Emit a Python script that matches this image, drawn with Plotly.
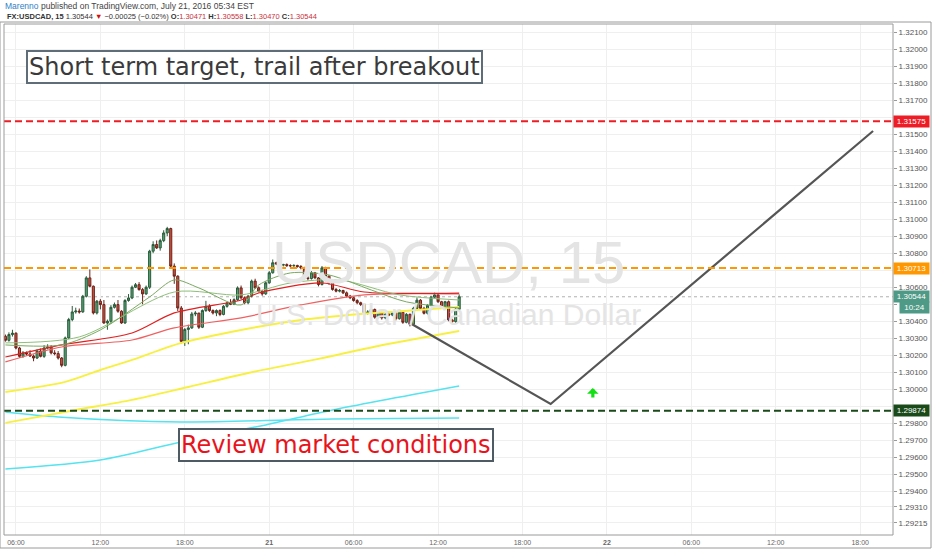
import plotly.graph_objects as go
import pandas as pd

# ---------------- data ----------------
first_candle = "2016-07-20 05:15"
opens = [1.30312,1.30288,1.30322,1.30330,1.30243,1.30194,1.30214,1.30208,1.30196,1.30184,
         1.30225,1.30194,1.30243,1.30248,1.30214,1.30210,1.30184,1.30141,1.30302,1.30410,
         1.30455,1.30460,1.30455,1.30547,1.30655,1.30606,1.30449,1.30518,1.30498,1.30390,
         1.30400,1.30482,1.30498,1.30459,1.30390,1.30522,1.30537,1.30600,1.30615,1.30586,
         1.30561,1.30600,1.30812,1.30851,1.30831,1.30874,1.30919,1.30945,1.30724,1.30665,
         1.30478,1.30282,1.30352,1.30361,1.30443,1.30448,1.30365,1.30463,1.30488,1.30463,
         1.30449,1.30463,1.30440,1.30488,1.30508,1.30500,1.30527,1.30596,1.30538,1.30509,
         1.30548,1.30636,1.30597,1.30577,1.30561,1.30626,1.30685,1.30744,1.30738,1.30730,
         1.30733,1.30727,1.30726,1.30728,1.30722,1.30714,1.30655,1.30651,1.30685,1.30655,
         1.30616,1.30714,1.30665,1.30626,1.30587,1.30577,1.30581,1.30567,1.30548,1.30538,
         1.30522,1.30509,1.30499,1.30450,1.30454,1.30469,1.30424,1.30450,1.30420,1.30441,
         1.30437,1.30450,1.30415,1.30453,1.30394,1.30441,1.30382,1.30476,1.30524,1.30476,
         1.30447,1.30494,1.30541,1.30555,1.30515,1.30486,1.30515,1.30408,1.30398,1.30471]
highs = [1.30322,1.30335,1.30350,1.30335,1.30250,1.30225,1.30222,1.30230,1.30205,1.30235,
         1.30240,1.30260,1.30265,1.30260,1.30230,1.30225,1.30190,1.30310,1.30420,1.30490,
         1.30480,1.30475,1.30555,1.30665,1.30705,1.30610,1.30525,1.30530,1.30525,1.30410,
         1.30495,1.30510,1.30525,1.30465,1.30530,1.30560,1.30610,1.30625,1.30630,1.30595,
         1.30610,1.30820,1.30870,1.30875,1.30885,1.30935,1.30955,1.30950,1.30740,1.30670,
         1.30490,1.30360,1.30380,1.30455,1.30460,1.30450,1.30470,1.30520,1.30500,1.30470,
         1.30470,1.30470,1.30495,1.30515,1.30530,1.30535,1.30605,1.30610,1.30545,1.30555,
         1.30645,1.30650,1.30605,1.30585,1.30635,1.30695,1.30763,1.30750,1.30745,1.30738,
         1.30740,1.30735,1.30735,1.30732,1.30730,1.30720,1.30665,1.30695,1.30690,1.30660,
         1.30725,1.30720,1.30670,1.30630,1.30595,1.30590,1.30585,1.30575,1.30555,1.30545,
         1.30530,1.30515,1.30505,1.30465,1.30475,1.30475,1.30460,1.30455,1.30448,1.30450,
         1.30458,1.30455,1.30460,1.30460,1.30448,1.30445,1.30485,1.30540,1.30530,1.30485,
         1.30500,1.30550,1.30568,1.30560,1.30520,1.30520,1.30522,1.30415,1.30480,1.30558]
lows = [1.30280,1.30280,1.30310,1.30235,1.30185,1.30185,1.30198,1.30190,1.30165,1.30178,
        1.30188,1.30185,1.30235,1.30205,1.30200,1.30175,1.30130,1.30135,1.30295,1.30400,
        1.30445,1.30445,1.30450,1.30540,1.30600,1.30440,1.30440,1.30470,1.30385,1.30350,
        1.30385,1.30475,1.30450,1.30385,1.30385,1.30515,1.30530,1.30595,1.30580,1.30500,
        1.30555,1.30590,1.30800,1.30825,1.30815,1.30865,1.30900,1.30715,1.30620,1.30460,
        1.30270,1.30255,1.30265,1.30355,1.30430,1.30355,1.30360,1.30455,1.30455,1.30440,
        1.30430,1.30430,1.30435,1.30480,1.30495,1.30495,1.30520,1.30530,1.30500,1.30500,
        1.30540,1.30590,1.30570,1.30550,1.30555,1.30620,1.30680,1.30730,1.30725,1.30722,
        1.30720,1.30718,1.30720,1.30715,1.30705,1.30645,1.30640,1.30645,1.30650,1.30605,
        1.30610,1.30655,1.30615,1.30580,1.30570,1.30570,1.30560,1.30540,1.30530,1.30515,
        1.30500,1.30490,1.30440,1.30440,1.30445,1.30415,1.30418,1.30410,1.30412,1.30430,
        1.30430,1.30405,1.30410,1.30385,1.30388,1.30370,1.30375,1.30470,1.30470,1.30440,
        1.30440,1.30488,1.30535,1.30508,1.30478,1.30480,1.30400,1.30385,1.30392,1.30470]
closes = [1.30288,1.30322,1.30330,1.30243,1.30194,1.30214,1.30208,1.30196,1.30184,1.30225,
          1.30194,1.30243,1.30248,1.30214,1.30210,1.30184,1.30141,1.30302,1.30410,1.30455,
          1.30460,1.30455,1.30547,1.30655,1.30606,1.30449,1.30518,1.30498,1.30390,1.30400,
          1.30482,1.30498,1.30459,1.30390,1.30522,1.30537,1.30600,1.30615,1.30586,1.30561,
          1.30600,1.30812,1.30851,1.30831,1.30874,1.30919,1.30945,1.30724,1.30665,1.30478,
          1.30282,1.30352,1.30361,1.30443,1.30448,1.30365,1.30463,1.30488,1.30463,1.30449,
          1.30463,1.30440,1.30488,1.30508,1.30500,1.30527,1.30596,1.30538,1.30509,1.30548,
          1.30636,1.30597,1.30577,1.30561,1.30626,1.30685,1.30744,1.30738,1.30730,1.30733,
          1.30727,1.30726,1.30728,1.30722,1.30714,1.30655,1.30651,1.30685,1.30655,1.30616,
          1.30714,1.30665,1.30626,1.30587,1.30577,1.30581,1.30567,1.30548,1.30538,1.30522,
          1.30509,1.30499,1.30450,1.30454,1.30469,1.30424,1.30450,1.30420,1.30441,1.30437,
          1.30450,1.30415,1.30453,1.30394,1.30441,1.30382,1.30476,1.30524,1.30476,1.30447,
          1.30494,1.30541,1.30555,1.30515,1.30486,1.30515,1.30408,1.30398,1.30471,1.30544]

# moving averages (read at points)
ma_yellow_a_t = ["2016-07-20 05:15","2016-07-20 09:30","2016-07-20 12:00","2016-07-20 14:15","2016-07-20 17:45",
                 "2016-07-20 22:00","2016-07-21 02:15","2016-07-21 06:30","2016-07-21 10:45","2016-07-21 13:30"]
ma_yellow_a_v = [1.29985,1.30044,1.30114,1.30173,1.30273,1.30349,1.30408,1.30443,1.30467,1.30484]
ma_yellow_b_t = ["2016-07-20 05:15","2016-07-20 10:15","2016-07-20 14:15","2016-07-20 18:15","2016-07-20 22:30",
                 "2016-07-21 03:30","2016-07-21 07:45","2016-07-21 13:30"]
ma_yellow_b_v = [1.29803,1.29879,1.29938,1.30014,1.30096,1.30179,1.30255,1.30343]
ma_cyan_a_t = ["2016-07-20 05:15","2016-07-20 09:00","2016-07-20 17:45","2016-07-21 04:30","2016-07-21 13:30"]
ma_cyan_a_v = [1.29867,1.29838,1.29808,1.29826,1.29832]
ma_cyan_b_t = ["2016-07-20 05:15","2016-07-20 12:00","2016-07-20 17:45","2016-07-20 23:45","2016-07-21 04:30","2016-07-21 13:30"]
ma_cyan_b_v = [1.29532,1.29585,1.29691,1.29791,1.29879,1.30020]
ma_red_a_t = ["2016-07-20 05:15","2016-07-20 09:15","2016-07-20 14:15","2016-07-20 17:15","2016-07-20 22:00",
              "2016-07-20 23:15","2016-07-21 03:45","2016-07-21 06:45","2016-07-21 13:30"]
ma_red_a_v = [1.30190,1.30261,1.30331,1.30449,1.30525,1.30566,1.30625,1.30572,1.30566]
ma_red_b_t = ["2016-07-20 05:15","2016-07-20 09:15","2016-07-20 14:15","2016-07-20 17:15","2016-07-20 22:00",
              "2016-07-21 02:15","2016-07-21 06:45","2016-07-21 13:30"]
ma_red_b_v = [1.30161,1.30249,1.30290,1.30361,1.30420,1.30496,1.30555,1.30561]
ma_green_a_t = ["2016-07-20 05:15","2016-07-20 09:15","2016-07-20 12:00","2016-07-20 15:30","2016-07-20 17:15",
                "2016-07-20 19:00","2016-07-20 22:00","2016-07-20 23:15","2016-07-21 01:30","2016-07-21 04:15",
                "2016-07-21 07:15","2016-07-21 09:45","2016-07-21 13:30"]
ma_green_a_v = [1.30261,1.30261,1.30349,1.30543,1.30643,1.30596,1.30496,1.30613,1.30684,1.30672,
                1.30584,1.30514,1.30478]
ma_green_b_t = ["2016-07-20 05:15","2016-07-20 10:30","2016-07-20 17:15","2016-07-20 22:00","2016-07-21 01:30",
                "2016-07-21 05:00","2016-07-21 09:15","2016-07-21 13:30"]
ma_green_b_v = [1.30273,1.30308,1.30572,1.30555,1.30625,1.30643,1.30555,1.30525]

levels = [1.31575, 1.30713, 1.29874]
level_colors = ["#ee1c25", "#ff9800", "#1a4a1a"]
last_price = 1.30544

path_t = ["2016-07-21 10:00", "2016-07-21 20:00", "2016-07-22 18:55"]
path_v = [1.30390, 1.29914, 1.31518]
arrow_t = "2016-07-21 23:00"
arrow_v = 1.30008

y_ticks = [1.29215, 1.29310, 1.294, 1.295, 1.296, 1.297, 1.298, 1.299, 1.300, 1.301, 1.302,
           1.303, 1.304, 1.305, 1.306, 1.307, 1.308, 1.309, 1.310, 1.311, 1.312, 1.313,
           1.314, 1.315, 1.316, 1.317, 1.318, 1.319, 1.320, 1.321]
hidden_ticks = [1.299, 1.305, 1.307, 1.316]
x_ticks = ["2016-07-20 06:00", "2016-07-20 12:00", "2016-07-20 18:00", "2016-07-21 00:00",
           "2016-07-21 06:00", "2016-07-21 12:00", "2016-07-21 18:00", "2016-07-22 00:00",
           "2016-07-22 06:00", "2016-07-22 12:00", "2016-07-22 18:00"]
x_labels = ["06:00", "12:00", "18:00", "<b>21</b>", "06:00", "12:00", "18:00", "<b>22</b>",
            "06:00", "12:00", "18:00"]

# ---------------- figure ----------------
times = pd.date_range(first_candle, periods=len(closes), freq="15min")
fig = go.Figure()

def ma(t, v, color, width):
    fig.add_trace(go.Scatter(x=pd.to_datetime(t), y=v, mode="lines",
                             line=dict(color=color, width=width, shape="spline", smoothing=0.8),
                             hoverinfo="skip", showlegend=False))

ma(ma_cyan_a_t, ma_cyan_a_v, "#55e3ef", 1.5)
ma(ma_cyan_b_t, ma_cyan_b_v, "#55e3ef", 1.5)
ma(ma_yellow_a_t, ma_yellow_a_v, "#f7f043", 2)
ma(ma_yellow_b_t, ma_yellow_b_v, "#f7f043", 2)
ma(ma_red_b_t, ma_red_b_v, "#f06060", 1.2)
ma(ma_red_a_t, ma_red_a_v, "#e02020", 1.2)
ma(ma_green_b_t, ma_green_b_v, "#8fbf7a", 1)
ma(ma_green_a_t, ma_green_a_v, "#7aa860", 1)

fig.add_trace(go.Candlestick(
    x=times, open=opens, high=highs, low=lows, close=closes,
    increasing=dict(fillcolor="#55a275", line=dict(color="#2a5a3a", width=1)),
    decreasing=dict(fillcolor="#cf5242", line=dict(color="#6b2218", width=1)),
    whiskerwidth=0, showlegend=False, hoverinfo="skip"))

fig.add_trace(go.Scatter(x=pd.to_datetime(path_t), y=path_v, mode="lines",
                         line=dict(color="#555555", width=2.2), hoverinfo="skip", showlegend=False))

shapes = []
for lv, c in zip(levels, level_colors):
    shapes.append(dict(type="line", xref="paper", x0=0, x1=1, yref="y", y0=lv, y1=lv,
                       line=dict(color=c, width=2, dash="7px,4px"), layer="above"))
shapes.append(dict(type="line", xref="paper", x0=0, x1=1, yref="y", y0=last_price, y1=last_price,
                   line=dict(color="#b0b0b0", width=1, dash="dot"), layer="below"))
# plot frame
shapes.append(dict(type="rect", xref="paper", yref="paper", x0=0, x1=1, y0=0, y1=1,
                   line=dict(color="#9a9a9a", width=1)))
# outer frame
shapes.append(dict(type="rect", xref="paper", yref="paper", x0=-4/889, x1=1+38/889, y0=-13/511, y1=1+2/511,
                   line=dict(color="#9a9a9a", width=1)))

annotations = []
annotations.append(dict(xref="paper", yref="paper", x=0.5, y=(535-262)/511, text="USDCAD, 15",
                        showarrow=False, font=dict(family="Liberation Sans", size=60, color="#e4e4e4"),
                        xanchor="center", yanchor="middle"))
annotations.append(dict(xref="paper", yref="paper", x=0.5, y=(535-314)/511, text="U.S. Dollar / Canadian Dollar",
                        showarrow=False, font=dict(family="Liberation Sans", size=30, color="#e4e4e4"),
                        xanchor="center", yanchor="middle"))
annotations.append(dict(x=pd.Timestamp("2016-07-20 22:57"), y=1.31894, text="Short term target, trail after breakout",
                        showarrow=False, font=dict(family="DejaVu Sans", size=24, color="#3a3a3a"),
                        bgcolor="white", bordercolor="#5f6d78", borderwidth=2, borderpad=1))
annotations.append(dict(x=pd.Timestamp("2016-07-21 04:43"), y=1.29671, text="Review market conditions",
                        showarrow=False, font=dict(family="DejaVu Sans", size=24, color="#e8141c"),
                        bgcolor="white", bordercolor="#4f5b64", borderwidth=2, borderpad=1))
# green up arrow
annotations.append(dict(x=pd.Timestamp(arrow_t), y=arrow_v, ax=0, ay=11, showarrow=True, text="",
                        arrowhead=1, arrowsize=0.6, arrowwidth=3.2, arrowcolor="#12e012", standoff=0))
# price labels on right axis
for lv, c in zip(levels, level_colors):
    annotations.append(dict(xref="paper", x=1, xanchor="left", yref="y", y=lv, text=f"{lv:.5f}",
                            showarrow=False, bgcolor=c, font=dict(family="Liberation Sans", size=8, color="white"),
                            width=33, align="center", borderpad=1))
annotations.append(dict(xref="paper", x=1, xanchor="left", yref="y", y=last_price, text=f"{last_price:.5f}",
                        showarrow=False, bgcolor="#4f9a86", font=dict(family="Liberation Sans", size=8, color="white"),
                        width=33, align="center", borderpad=1))
annotations.append(dict(xref="paper", x=1, xanchor="left", yref="y", y=last_price, yshift=-11, text="10:24",
                        showarrow=False, bgcolor="#4f9a86", font=dict(family="Liberation Sans", size=8, color="white"),
                        width=27, align="center", borderpad=1, xshift=6))
# header
annotations.append(dict(xref="paper", yref="paper", x=0, y=(535-6)/511, xanchor="left", yanchor="middle", xshift=-1,
                        text="<span style='color:#2f7fc8'>Marenno</span> published on TradingView.com, July 21, 2016 05:34 EST",
                        showarrow=False, font=dict(family="Liberation Sans", size=8.5, color="#444")))
annotations.append(dict(xref="paper", yref="paper", x=0, y=(535-16)/511, xanchor="left", yanchor="middle", xshift=1,
                        text=("<b>FX:USDCAD, 15</b> 1.30544 <span style='color:#d01010'>▼</span> −0.00025 (−0.02%) "
                              "<b>O:</b><span style='color:#c8323c'>1.30471</span> <b>H:</b><span style='color:#c8323c'>1.30558</span> "
                              "<b>L:</b><span style='color:#c8323c'>1.30470</span> <b>C:</b><span style='color:#c8323c'>1.30544</span>"),
                        showarrow=False, font=dict(family="Liberation Sans", size=7.5, color="#333")))

fig.update_layout(
    width=932, height=550,
    margin=dict(l=4, r=39, t=24, b=15),
    paper_bgcolor="white", plot_bgcolor="white",
    showlegend=False, boxgap=0.15,
    shapes=shapes, annotations=annotations,
    xaxis=dict(type="date", range=[pd.Timestamp("2016-07-20 05:09"), pd.Timestamp("2016-07-22 20:20")],
               rangeslider=dict(visible=False), tickvals=pd.to_datetime(x_ticks), ticktext=x_labels,
               showgrid=True, gridcolor="#efefef", zeroline=False, showline=False,
               tickfont=dict(family="Liberation Sans", size=7, color="#666"), ticks="", ticklabelstandoff=2),
    yaxis=dict(side="right", range=[1.29144, 1.32147], tickvals=y_ticks,
               ticktext=["" if v in hidden_ticks else f"{v:.5f}" for v in y_ticks],
               showgrid=True, gridcolor="#efefef", zeroline=False, showline=False,
               ticks="outside", ticklen=3, tickcolor="#999",
               tickfont=dict(family="Liberation Sans", size=8, color="#555")),
)

fig.write_html("out.html", config={"displayModeBar": False},
               post_script="document.body.style.margin='0px';")
